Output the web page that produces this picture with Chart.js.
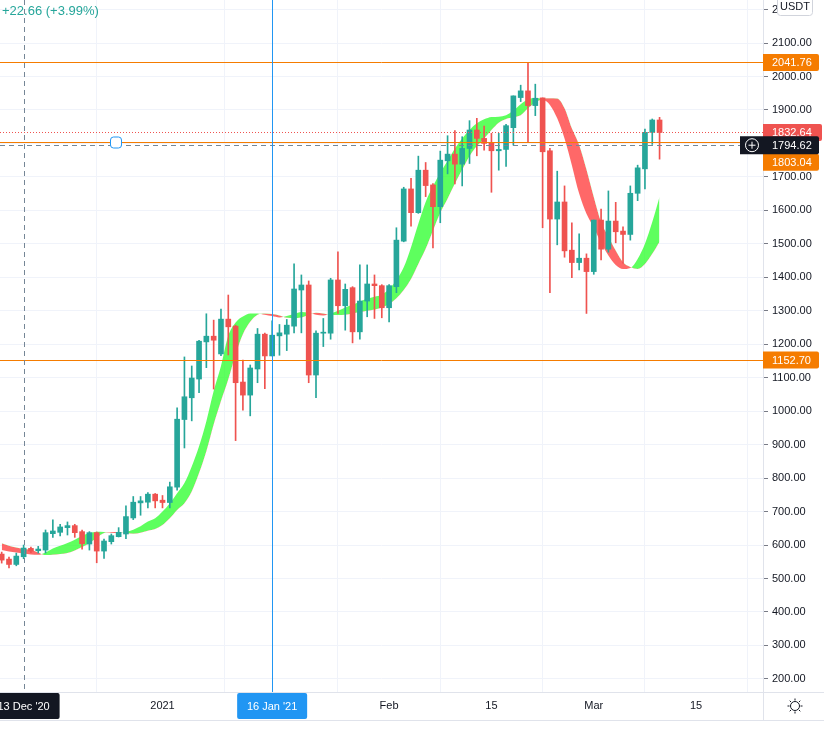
<!DOCTYPE html>
<html>
<head>
<meta charset="utf-8">
<script src="https://cdn.jsdelivr.net/npm/chart.js@4.4.1/dist/chart.umd.min.js"></script>
<style>
  html, body { margin: 0; padding: 0; background: #fff; }
  #wrap { position: relative; width: 824px; height: 730px; }
</style>
</head>
<body>
<div id="wrap"><canvas id="priceChart"></canvas></div>
<script>
// ETH/USDT daily candles, index 0 = 10 Dec 2020 ... index 90 = 10 Mar 2021
const opens = [573, 558, 542, 565, 590, 583, 585, 634, 638, 652, 658, 640, 603, 637, 582, 610, 625, 633, 681, 726,
  728, 752, 734, 727, 773, 975, 1040, 1096, 1207, 1224, 1171, 1275, 1254, 1087, 1048, 1126, 1230, 1165, 1225, 1230,
  1254, 1362, 1377, 1108, 1233, 1233, 1392, 1315, 1369, 1237, 1329, 1380, 1375, 1309, 1372, 1508, 1664, 1593, 1720, 1676,
  1611, 1748, 1768, 1738, 1785, 1840, 1815, 1802, 1778, 1782, 1847, 1937, 1957, 1913, 1936, 1778, 1574, 1625, 1481, 1444,
  1457, 1417, 1571, 1484, 1568, 1538, 1528, 1651, 1724, 1833, 1870];
const highs = [579, 564, 576, 600, 594, 596, 645, 675, 662, 669, 662, 645, 640, 639, 618, 633, 652, 717, 745, 745,
  757, 754, 748, 788, 1010, 1162, 1135, 1212, 1291, 1272, 1305, 1347, 1257, 1153, 1138, 1247, 1233, 1270, 1259, 1274,
  1440, 1407, 1389, 1240, 1277, 1397, 1476, 1380, 1372, 1437, 1437, 1407, 1378, 1378, 1548, 1669, 1696, 1762, 1743, 1680,
  1777, 1823, 1838, 1820, 1868, 1875, 1852, 1830, 1830, 1857, 1942, 1974, 2041.76, 1977, 1936, 1785, 1717, 1673, 1563, 1530,
  1470, 1571, 1604, 1658, 1624, 1551, 1673, 1735, 1843, 1873, 1878];
const lows = [546, 532, 538, 559, 577, 576, 576, 623, 627, 630, 623, 588, 585, 547, 560, 603, 624, 619, 676, 689,
  711, 711, 711, 711, 764, 890, 971, 1055, 1130, 1066, 1166, 1168, 912, 1003, 986, 1085, 1067, 1165, 1167, 1181,
  1234, 1234, 1085, 1040, 1193, 1215, 1292, 1242, 1204, 1215, 1282, 1277, 1279, 1267, 1354, 1506, 1553, 1591, 1641, 1488,
  1563, 1709, 1679, 1673, 1740, 1763, 1780, 1654, 1720, 1731, 1795, 1925, 1805, 1883, 1548, 1354, 1497, 1460, 1399, 1422,
  1292, 1409, 1452, 1475, 1503, 1442, 1511, 1629, 1664, 1797, 1753];
const closes = [555, 542, 567, 591, 582, 588, 637, 642, 654, 658, 637, 604, 637, 582, 612, 628, 638, 685, 728, 732,
  752, 732, 727, 774, 976, 1043, 1099, 1209, 1224, 1212, 1275, 1252, 1085, 1048, 1129, 1230, 1165, 1227, 1234, 1257,
  1365, 1377, 1108, 1233, 1236, 1392, 1315, 1364, 1237, 1329, 1380, 1375, 1309, 1375, 1511, 1664, 1593, 1720, 1674, 1611,
  1750, 1768, 1738, 1785, 1840, 1815, 1800, 1778, 1782, 1853, 1942, 1957, 1913, 1935, 1775, 1574, 1625, 1479, 1444, 1457,
  1417, 1571, 1484, 1568, 1536, 1528, 1651, 1727, 1833, 1870, 1832.64];

// ribbon: fast line and its lagged copy (green where fast is above)
const ribbonFast = [585, 581, 578, 575, 572, 571, 578, 590, 598, 606, 616, 627, 636, 640, 639, 637, 636, 640, 646, 656,
  670, 680, 700, 725, 755, 785, 835, 895, 970, 1060, 1135, 1225, 1265, 1283, 1292, 1292, 1288, 1284, 1280, 1284,
  1290, 1296, 1294, 1288, 1286, 1292, 1300, 1310, 1318, 1328, 1336, 1342, 1348, 1365, 1392, 1430, 1490, 1560, 1625, 1672,
  1712, 1748, 1785, 1815, 1840, 1860, 1872, 1879, 1880, 1884, 1898, 1917, 1932, 1936, 1932, 1915, 1875, 1815, 1735, 1650,
  1590, 1549, 1503, 1465, 1437, 1425, 1428, 1455, 1500, 1565, 1641];
const ribbonSlow = [605, 598, 593, 589, 585, 578, 570, 571, 573, 576, 584, 594, 606, 622, 636, 639, 638, 636, 634, 637,
  643, 648, 660, 680, 705, 725, 760, 815, 880, 960, 1030, 1095, 1170, 1230, 1267, 1288, 1292, 1290, 1286, 1279,
  1278, 1280, 1288, 1294, 1292, 1288, 1287, 1288, 1292, 1296, 1300, 1304, 1310, 1320, 1337, 1362, 1395, 1440, 1485, 1540,
  1593, 1635, 1680, 1722, 1762, 1792, 1815, 1840, 1862, 1873, 1878, 1884, 1905, 1922, 1933, 1935, 1934, 1905, 1845, 1795,
  1722, 1640, 1565, 1522, 1480, 1445, 1431, 1425, 1440, 1470, 1506];

const priceTicks = [200, 300, 400, 500, 600, 700, 800, 900, 1000, 1100, 1200, 1300, 1400, 1500, 1600, 1700, 1800,
  1900, 2000, 2100, 2200];
const timeTickIdx = [4, 22, 39, 53, 67, 81, 95];
const timeTickLabels = ['14', '2021', '18', 'Feb', '15', 'Mar', '15'];

const levels = [2041.76, 1803.04, 1152.70];
const lastPrice = 1832.64;
const crossPrice = 1794.62;
const crossIdx = 3;     // 13 Dec '20
const crossLabel = "13 Dec '20";
const vlineIdx = 37;    // 16 Jan '21
const vlineLabel = "16 Jan '21";
const legendText = '+22.66 (+3.99%)';

const UP = '#26a69a', DOWN = '#ef5350', ORANGE = '#f57c00', BLUE = '#2196f3', DARK = '#131722';
const FONT = "'Liberation Sans', Arial, sans-serif";

const candleColors = closes.map((c, i) => c >= opens[i] ? UP : DOWN);

function labelBox(ctx, x1, yc, x2, h, bg, text) {
    ctx.fillStyle = bg;
    ctx.beginPath();
    ctx.roundRect(x1, yc - h / 2, x2 - x1, h, [0, 2, 2, 0]);
    ctx.fill();
    ctx.fillStyle = '#fff';
    ctx.textAlign = 'left';
    ctx.textBaseline = 'middle';
    ctx.fillText(text, 772, yc + 0.5);
}

const overlay = {
    id: 'overlay',
    afterDatasetsDraw(chart) {
        const { ctx, chartArea: a, scales: { x, y } } = chart;
        ctx.save();
        ctx.beginPath();
        ctx.rect(a.left, a.top, a.right - a.left, a.bottom - a.top);
        ctx.clip();
        ctx.lineWidth = 1;

        // horizontal level lines
        ctx.strokeStyle = ORANGE;
        levels.forEach(v => {
            const py = Math.round(y.getPixelForValue(v)) + 0.5;
            ctx.beginPath(); ctx.moveTo(a.left, py); ctx.lineTo(a.right, py); ctx.stroke();
        });

        // last price, dotted
        ctx.strokeStyle = DOWN;
        ctx.setLineDash([1, 2]);
        let py = Math.round(y.getPixelForValue(lastPrice)) + 0.5;
        ctx.beginPath(); ctx.moveTo(a.left, py); ctx.lineTo(a.right, py); ctx.stroke();

        // crosshair
        ctx.strokeStyle = '#758696';
        ctx.setLineDash([5, 4]);
        py = Math.round(y.getPixelForValue(crossPrice)) + 0.5;
        ctx.beginPath(); ctx.moveTo(a.left, py); ctx.lineTo(a.right, py); ctx.stroke();
        const cx = Math.round(x.getPixelForValue(crossIdx)) + 0.5;
        ctx.beginPath(); ctx.moveTo(cx, a.top); ctx.lineTo(cx, a.bottom); ctx.stroke();
        ctx.setLineDash([]);

        // vertical line drawing
        ctx.strokeStyle = BLUE;
        const vx = Math.round(x.getPixelForValue(vlineIdx)) + 0.5;
        ctx.beginPath(); ctx.moveTo(vx, a.top); ctx.lineTo(vx, a.bottom); ctx.stroke();

        // handle of the selected level line
        const hy = Math.round(y.getPixelForValue(levels[1])) + 0.5;
        ctx.fillStyle = '#fff';
        ctx.strokeStyle = BLUE;
        ctx.beginPath(); ctx.roundRect(110.5, hy - 5.5, 11, 11, 3); ctx.fill(); ctx.stroke();
        ctx.restore();
    },
    afterDraw(chart) {
        const { ctx, chartArea: a, scales: { x, y } } = chart;
        ctx.save();
        ctx.strokeStyle = '#e0e3eb';
        ctx.lineWidth = 1;
        ctx.beginPath();
        ctx.moveTo(a.right + 0.5, 0); ctx.lineTo(a.right + 0.5, 720);
        ctx.moveTo(0, a.bottom + 0.5); ctx.lineTo(824, a.bottom + 0.5);
        ctx.moveTo(0, 720.5); ctx.lineTo(824, 720.5);
        ctx.stroke();

        ctx.font = '11px ' + FONT;
        // price labels
        labelBox(ctx, a.right, y.getPixelForValue(levels[0]), 819, 17, ORANGE, levels[0].toFixed(2));
        labelBox(ctx, a.right, y.getPixelForValue(levels[2]), 819, 17, ORANGE, levels[2].toFixed(2));
        labelBox(ctx, a.right, y.getPixelForValue(lastPrice), 822, 17, DOWN, lastPrice.toFixed(2));
        const cy = y.getPixelForValue(crossPrice);
        labelBox(ctx, a.right, cy + 17, 819, 17, ORANGE, levels[1].toFixed(2));
        labelBox(ctx, 740, cy, 819, 18, DARK, crossPrice.toFixed(2));
        // plus-in-circle icon
        ctx.strokeStyle = '#fff';
        ctx.beginPath(); ctx.arc(752, cy, 6.5, 0, Math.PI * 2); ctx.stroke();
        ctx.beginPath();
        ctx.moveTo(748.5, cy); ctx.lineTo(755.5, cy);
        ctx.moveTo(752, cy - 3.5); ctx.lineTo(752, cy + 3.5);
        ctx.stroke();

        // time axis labels for crosshair and vertical line
        const tx = [[x.getPixelForValue(crossIdx), DARK, crossLabel, 72], [x.getPixelForValue(vlineIdx), BLUE, vlineLabel, 70]];
        tx.forEach(([px, bg, txt, w]) => {
            ctx.fillStyle = bg;
            ctx.beginPath(); ctx.roundRect(px - w / 2, a.bottom + 1, w, 26, 2); ctx.fill();
            ctx.fillStyle = '#fff';
            ctx.textAlign = 'center';
            ctx.textBaseline = 'middle';
            ctx.fillText(txt, px, a.bottom + 14.5);
        });

        // currency box
        ctx.fillStyle = '#fff';
        ctx.strokeStyle = '#d1d4dc';
        ctx.beginPath(); ctx.roundRect(777.5, -3.5, 35, 19, 3); ctx.fill(); ctx.stroke();
        ctx.fillStyle = DARK;
        ctx.textAlign = 'center';
        ctx.fillText('USDT', 795, 7);

        // settings icon
        ctx.strokeStyle = DARK;
        ctx.beginPath(); ctx.arc(795, 706, 4.5, 0, Math.PI * 2); ctx.stroke();
        ctx.beginPath();
        for (let k = 0; k < 8; k++) {
            const ang = k * Math.PI / 4;
            ctx.moveTo(795 + Math.cos(ang) * 5.5, 706 + Math.sin(ang) * 5.5);
            ctx.lineTo(795 + Math.cos(ang) * 7.5, 706 + Math.sin(ang) * 7.5);
        }
        ctx.stroke();

        // legend fragment
        ctx.font = '13px ' + FONT;
        ctx.fillStyle = UP;
        ctx.textAlign = 'left';
        ctx.fillText(legendText, 2, 11);
        ctx.restore();
    }
};

const ctx = document.getElementById('priceChart').getContext('2d');
new Chart(ctx, {
    type: 'bar',
    data: {
        datasets: [
            {
                type: 'line',
                data: ribbonSlow.map((v, i) => ({ x: i, y: v })),
                borderColor: 'transparent', borderWidth: 0, pointRadius: 0,
                cubicInterpolationMode: 'monotone', fill: false, order: 4
            },
            {
                type: 'line',
                data: ribbonFast.map((v, i) => ({ x: i, y: v })),
                borderColor: 'transparent', borderWidth: 0, pointRadius: 0,
                cubicInterpolationMode: 'monotone', order: 3,
                fill: { target: 0, above: 'rgba(40,255,40,0.75)', below: 'rgba(255,40,40,0.7)' }
            },
            {
                data: lows.map((v, i) => ({ x: i, y: [v, highs[i]] })),
                backgroundColor: candleColors, barThickness: 1, grouped: false, order: 2
            },
            {
                data: opens.map((v, i) => ({ x: i, y: [v, closes[i]] })),
                backgroundColor: candleColors, barThickness: 5, minBarLength: 1, grouped: false, order: 1
            }
        ]
    },
    options: {
        responsive: true,
        maintainAspectRatio: false,
        animation: false,
        layout: { padding: { left: 0, right: 0, top: 0, bottom: 10 } },
        plugins: { legend: { display: false }, tooltip: { enabled: false } },
        scales: {
            x: {
                type: 'linear', min: -0.23, max: 104.15, offset: false,
                afterFit(s) { s.height = 28; s.paddingLeft = 0; s.paddingRight = 0; },
                afterBuildTicks(s) { s.ticks = timeTickIdx.map(v => ({ value: v })); },
                ticks: {
                    callback: (v, i) => timeTickLabels[i],
                    font: { family: FONT, size: 11 }, color: DARK, padding: 7,
                    maxRotation: 0, autoSkip: false
                },
                grid: { color: '#f0f3fa', drawTicks: false },
                border: { display: false }
            },
            y: {
                position: 'right', min: 160.9, max: 2228.5,
                afterFit(s) { s.width = 61; s.paddingTop = 0; s.paddingBottom = 0; },
                afterBuildTicks(s) { s.ticks = priceTicks.map(v => ({ value: v })); },
                ticks: {
                    callback: v => v.toFixed(2),
                    font: { family: FONT, size: 11 }, color: DARK, padding: 4, autoSkip: false
                },
                grid: { color: '#f0f3fa', tickColor: '#787b86', tickLength: 5 },
                border: { display: false }
            }
        }
    },
    plugins: [overlay]
});
</script>
</body>
</html>
